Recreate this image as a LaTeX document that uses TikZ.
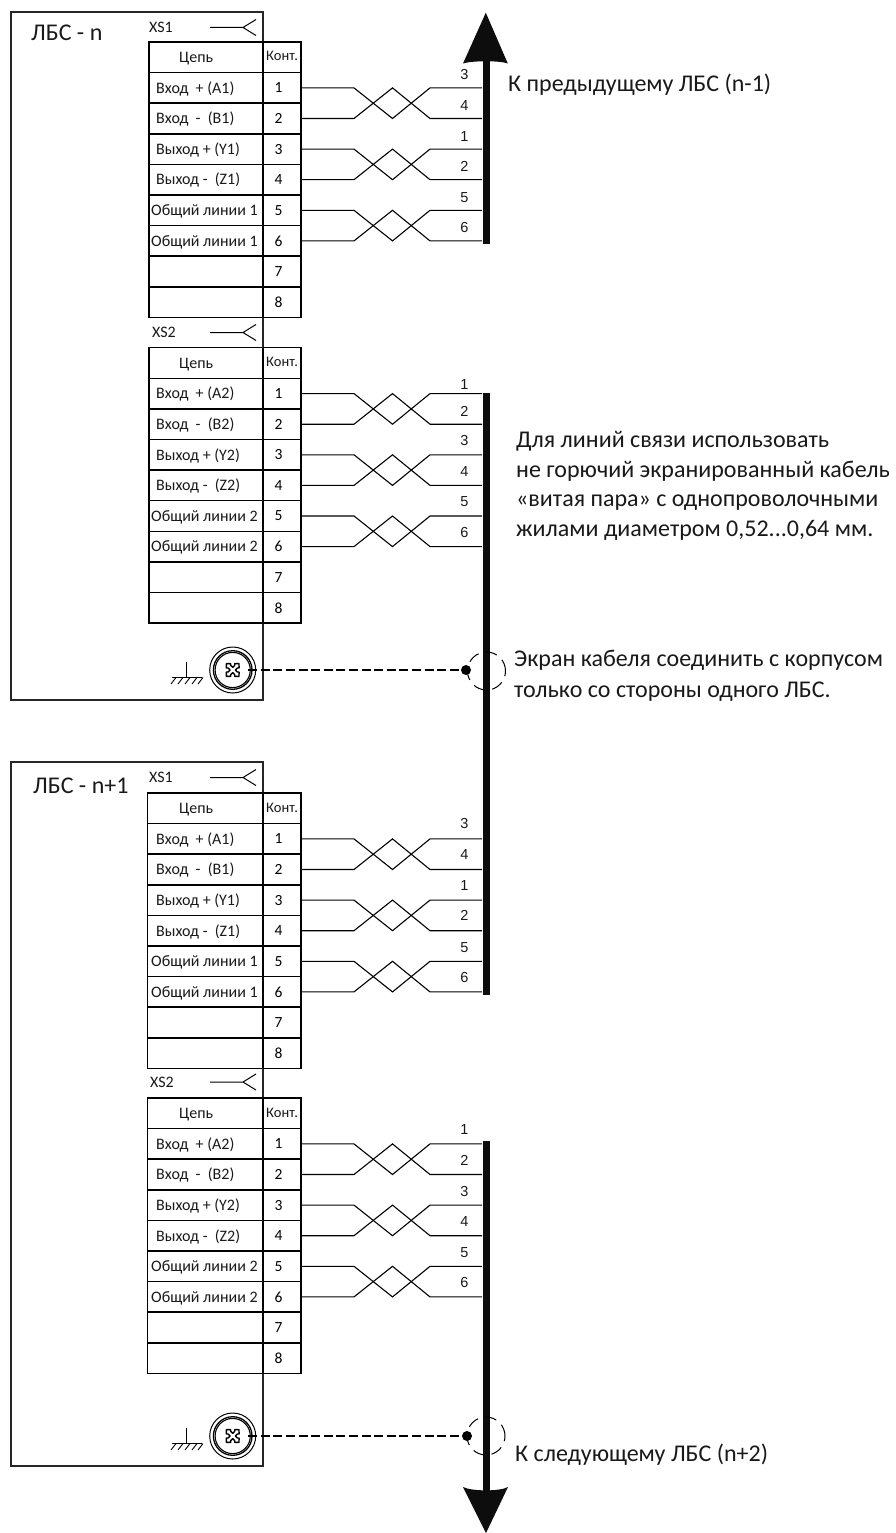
\documentclass[tikz,border=0pt]{standalone}
\usepackage{fontspec}
\setmainfont{Carlito}
\newfontfamily\busfont{Liberation Sans}
\tikzset{
  boxframe/.style={draw=black!85,line width=1.1pt,rectangle,inner sep=0pt,outer sep=0pt,anchor=north west},
  cellbox/.style={draw=black,line width=1.5pt,rectangle,inner sep=0pt,outer sep=0pt,anchor=north west,minimum height=30.6pt},
  kontbox/.style={cellbox,minimum width=38pt,font=\fontsize{15.5pt}{17pt}\selectfont},
  celltext/.style={inner sep=0pt,anchor=base west,font=\fontsize{16pt}{18pt}\selectfont,text=black!90},
  buslabel/.style={inner sep=0pt,font=\fontsize{14.5pt}{16pt}\selectfont\busfont,text=black!90},
  wire/.style={line width=1.1pt,draw=black},
  bus/.style={line width=7pt,draw=black!95},
  bigtext/.style={inner sep=0pt,anchor=base west,font=\fontsize{24pt}{26pt}\selectfont,text=black!90},
  xslabel/.style={inner sep=0pt,anchor=base west,font=\fontsize{16pt}{18pt}\selectfont,text=black!90},
  xsline/.style={line width=1pt,draw=black},
  shieldline/.style={line width=1.5pt,draw=black,dash pattern=on 9pt off 3.6pt},
  shieldring/.style={circle,draw=black,line width=1pt,dash pattern=on 12pt off 7pt,minimum size=38pt,inner sep=0pt},
  shielddot/.style={circle,fill=black,minimum size=10pt,inner sep=0pt},
  screwring/.style={circle,draw=black,line width=1pt,minimum size=46pt,inner sep=0pt},
}
% #1 name  #2 left x  #3 top y  #4 index
\newcommand{\conntable}[4]{%
  \pgfmathsetmacro{\wl}{263-#2}%
  \node[cellbox,minimum width=\wl pt] (#1-c0) at (#2,#3) {};
  \node[kontbox,anchor=north west] (#1-k0) at (263,#3) {};
  \node[celltext,font=\fontsize{14.5pt}{16pt}\selectfont] (#1-kt) at (266,#3+19) {Конт.};
  \foreach \i in {1,...,8}{
    \pgfmathsetmacro{\yy}{#3+30.6*\i}
    \node[cellbox,minimum width=\wl pt] (#1-c\i) at (#2,\yy) {};
    \node[kontbox] (#1-k\i) at (263,\yy) {\hspace*{-7pt}\i};
  }
  \node[celltext,xshift=30pt] (#1-t0) at (149,#3+20.6) {Цепь};
  \node[celltext] (#1-t1) at (156,#3+51.2) {Вход\ \ + (A#4)};
  \node[celltext] (#1-t2) at (156,#3+81.8) {Вход\ \ -\ \ (B#4)};
  \node[celltext] (#1-t3) at (156,#3+112.4) {Выход + (Y#4)};
  \node[celltext] (#1-t4) at (156,#3+143) {Выход -\ \ (Z#4)};
  \node[celltext] (#1-t5) at (151,#3+173.6) {Общий линии #4};
  \node[celltext] (#1-t6) at (151,#3+204.2) {Общий линии #4};
}
% #1 table  #2 upper row  #3 lower row
\newcommand{\twistpair}[3]{%
  \path (#1-k#2.east) ++(181,0) coordinate (#1-e#2);
  \path (#1-k#3.east) ++(181,0) coordinate (#1-e#3);
  \path (#1-k#2.east) ++(53,0) coordinate (#1-pa);
  \path (#1-k#3.east) ++(53,0) coordinate (#1-pb);
  \draw[wire] (#1-k#2.east) -- (#1-pa) -- ($(#1-pb)+(38.5,0)$) -- ($(#1-pa)+(76,0)$) -- (#1-e#2);
  \draw[wire] (#1-k#3.east) -- (#1-pb) -- ($(#1-pa)+(38.5,0)$) -- ($(#1-pb)+(76,0)$) -- (#1-e#3);
}
% #1 table #2 row #3 text #4 height above wire
\newcommand{\buslab}[4]{\node[buslabel] (#1-l#2) at ($(#1-e#2)+(-17.5,-#4)$) {#3};}
% #1 name #2 label x #3 y #4 text
\newcommand{\xssym}[4]{%
  \node[xslabel] (#1) at (#2,#3+5) {#4};
  \coordinate (#1-a) at (210,#3);
  \coordinate (#1-b) at (243,#3);
  \coordinate (#1-u) at (256,#3-8);
  \coordinate (#1-d) at (256,#3+8);
  \draw[xsline] (#1-a) -- (#1-b) (#1-u) -- (#1-b) -- (#1-d);
}
% #1 name #2 y
\newcommand{\screwgnd}[2]{%
  \node[screwring] (#1) at (232.7,#2) {};
  \draw[line width=1.3pt] (#1) circle[radius=19.3];
  \draw[line width=1.1pt] (#1) circle[radius=17.6];
  \draw[line width=1.4pt,shift={(232.7,#2)},rotate=45,line join=round,scale=.85]
    (-2.2,-2.2) -- (-2.2,-5.5) -- (-3.6,-7) -- (0,-10.5) -- (3.6,-7) -- (2.2,-5.5) -- (2.2,-2.2)
    -- (5.5,-2.2) -- (7,-3.6) -- (10.5,0) -- (7,3.6) -- (5.5,2.2) -- (2.2,2.2)
    -- (2.2,5.5) -- (3.6,7) -- (0,10.5) -- (-3.6,7) -- (-2.2,5.5) -- (-2.2,2.2)
    -- (-5.5,2.2) -- (-7,3.6) -- (-10.5,0) -- (-7,-3.6) -- (-5.5,-2.2) -- cycle;
  \draw[line width=1pt] (186.7,#2-8) -- (186.7,#2+7.5) (171.5,#2+7.5) -- (202,#2+7.5);
  \foreach \hx in {176,183,190,197,203}{\draw[line width=.9pt] (\hx,#2+7.5) -- (\hx-5,#2+14);}
}
\usetikzlibrary{calc}
\begin{document}
\begin{tikzpicture}[x=1pt,y=-1pt]
\path[use as bounding box,fill=white] (0,0) rectangle (895,1533);
% outer boxes
\node[boxframe,minimum width=252pt,minimum height=688pt] (lbsa) at (11,12) {};
\node[boxframe,minimum width=252pt,minimum height=704pt] (lbsb) at (11,762) {};
\node[bigtext] (lbsat) at (31,41) {ЛБС - n};
\node[bigtext] (lbsbt) at (33,793) {ЛБС - n+1};
% tables
\conntable{a}{149}{42}{1}
\conntable{b}{149}{347.7}{2}
\conntable{c}{147.5}{793}{1}
\conntable{d}{147.5}{1098}{2}
% connector marks
\xssym{xa}{149}{27.5}{XS1}
\xssym{xb}{152}{332.5}{XS2}
\xssym{xc}{149}{777.5}{XS1}
\xssym{xd}{150}{1082}{XS2}
% twisted pairs
\foreach \t in {a,b,c,d}{
  \twistpair{\t}{1}{2}
  \twistpair{\t}{3}{4}
  \twistpair{\t}{5}{6}
}
% bus
\coordinate (bus1a) at (486,58);
\coordinate (bus1b) at (486,243.5);
\coordinate (bus2a) at (486,392.5);
\coordinate (bus2b) at (486,994.5);
\coordinate (bus3a) at (486,1141);
\coordinate (bus3b) at (486,1495);
\draw[bus] (bus1a) -- (bus1b);
\draw[bus] (bus2a) -- (bus2b);
\draw[bus] (bus3a) -- (bus3b);
\fill[black!95] (485.8,12.7) -- (507.8,63.5) .. controls (500,60.5) and (472,60.5) .. (463,63.5) -- cycle;
\fill[black!95] (486,1533) -- (508,1487) .. controls (500,1491.5) and (472,1491.5) .. (463,1487) -- cycle;
% bus numbers
\buslab{a}{1}{3}{13}\buslab{a}{2}{4}{13}\buslab{a}{3}{1}{13}\buslab{a}{4}{2}{13}\buslab{a}{5}{5}{13}\buslab{a}{6}{6}{13}
\buslab{b}{1}{1}{9}\buslab{b}{2}{2}{13}\buslab{b}{3}{3}{14}\buslab{b}{4}{4}{14}\buslab{b}{5}{5}{14}\buslab{b}{6}{6}{14}
\buslab{c}{1}{3}{15}\buslab{c}{2}{4}{15}\buslab{c}{3}{1}{15}\buslab{c}{4}{2}{15}\buslab{c}{5}{5}{14}\buslab{c}{6}{6}{14}
\buslab{d}{1}{1}{14}\buslab{d}{2}{2}{14}\buslab{d}{3}{3}{14}\buslab{d}{4}{4}{14}\buslab{d}{5}{5}{14}\buslab{d}{6}{6}{14}
% screws and shield
\screwgnd{sa}{670}
\screwgnd{sb}{1436}
\node[shielddot] (da) at (466,670) {};
\node[shielddot] (db) at (467,1436) {};
\draw[shieldline] (sa.east) ++(-8,0) -- (da);
\draw[shieldline] (sb.east) ++(-8,0) -- (db);
\node[shieldring] (ra) at (486.5,671) {};
\node[shieldring] (rb) at (486,1436) {};
% texts
\node[bigtext] (t1) at (508,92) {К предыдущему ЛБС (n-1)};
\node[bigtext] (t2) at (516,447) {Для линий связи использовать};
\node[bigtext] (t3) at (516,477) {не горючий экранированный кабель};
\node[bigtext] (t4) at (516,506.5) {«витая пара» с однопроволочными};
\node[bigtext] (t5) at (516,536) {жилами диаметром 0,52...0,64 мм.};
\node[bigtext] (t6) at (514,666) {Экран кабеля соединить с корпусом};
\node[bigtext] (t7) at (514,697) {только со стороны одного ЛБС.};
\node[bigtext] (t8) at (515,1461) {К следующему ЛБС (n+2)};
\end{tikzpicture}
\end{document}
